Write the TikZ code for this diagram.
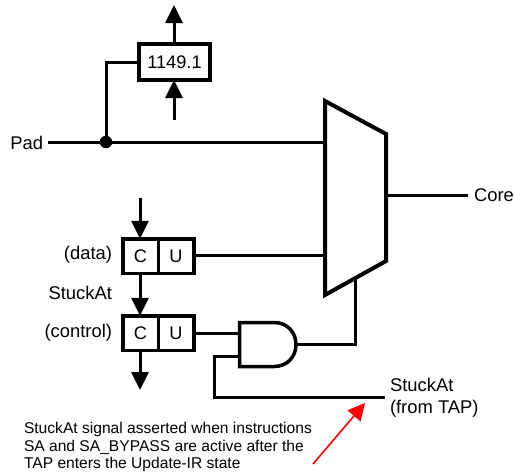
\documentclass[tikz,border=0pt]{standalone}
\usepackage{fontspec}
\setmainfont{Liberation Sans}
\usetikzlibrary{arrows.meta}

\tikzset{
    wire/.style={line width=3pt},
    flow/.style={line width=3pt,-{Triangle[length=18pt,width=17pt]}},
    thick box/.style={draw,line width=3.5pt,inner sep=0pt,outer sep=0pt,font=\fontsize{18.2}{22}\selectfont},
    cell/.style={thick box,minimum width=35.5pt,minimum height=34.5pt},
    lbl/.style={inner sep=0pt,outer sep=0pt,font=\fontsize{18.4}{22}\selectfont},
}

\begin{document}
\begin{tikzpicture}[x=1pt,y=-1pt]
    \useasboundingbox (0,0) rectangle (514,475);

    % boundary scan cell on the pad side
    \node[thick box,minimum width=71pt,minimum height=36pt] (scan) at (174.5,62) {1149.1};
    \coordinate (scanout) at (174,5);
    \coordinate (scanin) at (174,120);
    \draw[flow] (scan.north -| scanout) -- (scanout);
    \draw[flow] (scanin) -- (scan.south -| scanin);

    % mux
    \coordinate (muxa) at (325,101);
    \coordinate (muxb) at (386,134);
    \coordinate (muxc) at (386,261);
    \coordinate (muxd) at (325,295);
    \draw[line width=4pt,miter limit=10] (muxa) -- (muxb) -- (muxc) -- (muxd) -- cycle;
    \coordinate (muxpad) at (323,142);
    \coordinate (muxdata) at (323,255);
    \coordinate (muxsel) at (355,279);

    \node[lbl,anchor=east] (pad) at (43,143) {Pad};
    \node[lbl,anchor=west] (core) at (474,195) {Core};
    \node[circle,fill=black,inner sep=0pt,minimum size=12.5pt] (joint) at (106,142) {};
    \draw[wire] (48,142) -- (joint) -- (muxpad);
    \draw[wire] (joint) |- (scan.west);
    \draw[wire] (386,195) -- (468,195);

    % C and U cells
    \node[cell] (cdata) at (140.5,256) {C};
    \node[cell] (udata) at (176,256) {U};
    \node[cell] (cctrl) at (140.5,333) {C};
    \node[cell] (uctrl) at (176,333) {U};
    \node[lbl,anchor=east] (ldata) at (112,255) {(data)};
    \node[lbl,anchor=east] (lstuck) at (112,293) {StuckAt};
    \node[lbl,anchor=east] (lctrl) at (112,333) {(control)};
    \coordinate (datain) at (140,198);
    \coordinate (ctrlout) at (140,390);
    \draw[flow] (datain) -- (cdata.north -| datain);
    \draw[flow] (cdata.south -| datain) -- (cctrl.north -| datain);
    \draw[flow] (cctrl.south -| datain) -- (ctrlout);
    \draw[wire] (udata.east |- muxdata) -- (muxdata);

    % and gate
    \draw[line width=3.5pt,miter limit=10] (239.5,322.5) -- (274,322.5)
        .. controls (288,322.5) and (296,333) .. (296,344.5)
        .. controls (296,356) and (288,366.5) .. (274,366.5) -- (239.5,366.5) -- cycle;
    \coordinate (anda) at (238,333);
    \coordinate (andb) at (238,356);
    \coordinate (andout) at (297,344);
    \draw[wire] (uctrl.east) -- (anda);
    \draw[wire] (andout) -| (muxsel);

    % stuck at input
    \node[lbl,anchor=west,align=left] (tap) at (390,398) {StuckAt\\(from TAP)};
    \coordinate (tapin) at (385,397);
    \draw[wire] (andb) -- (214,356) |- (tapin);

    % note
    \node[lbl,anchor=north west,align=left,font=\fontsize{15.6}{17.5}\selectfont] (note) at (24,422.5)
        {StuckAt signal asserted when instructions\\SA and SA\_BYPASS are active after the\\TAP enters the Update-IR state};
    \coordinate (notefrom) at (313,464);
    \coordinate (noteto) at (365,403);
    \draw[red,line width=1.6pt,-{Triangle[length=17pt,width=17pt]}] (notefrom) -- (noteto);
\end{tikzpicture}
\end{document}
